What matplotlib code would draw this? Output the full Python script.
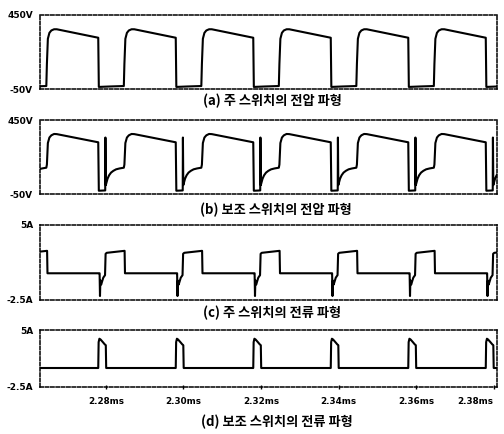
import numpy as np
import matplotlib
matplotlib.use('Agg')
import matplotlib.pyplot as plt

# falling edges of the main switch voltage (ms), 20 us switching period
fall_edges_ms = [2.258, 2.278, 2.298, 2.318, 2.338, 2.358, 2.378]

# one switching period of each trace, time in us after the falling edge
tau_main_v = [0.0, 0.15, 3.0, 6.6, 6.75, 7.0, 7.4, 7.9, 8.6, 9.3, 20.0]
main_v = [297, -34, -31, -28, 120, 290, 330, 346, 354, 354, 297]

tau_aux_v = [0.0, 0.15, 1.8, 1.85, 1.95, 2.15, 2.4, 2.8, 3.3, 3.9, 4.6, 5.5,
             6.6, 6.75, 7.0, 7.4, 7.9, 8.6, 9.3, 20.0]
aux_v = [300, -26, -24, 332, 12, 32, 55, 78, 96, 108, 118, 124,
         129, 150, 295, 332, 347, 356, 355, 300]

tau_main_i = [0.0, 0.35, 0.45, 0.55, 0.75, 1.3, 1.75, 1.9, 2.2, 6.8, 6.9, 20.0]
main_i = [0.14, 0.14, -2.15, -0.6, -1.0, -0.3, -0.05, 2.1, 2.2, 2.4, 0.14, 0.14]

tau_aux_i = [0.0, 0.1, 0.3, 0.6, 1.2, 1.7, 1.95, 2.05, 20.0]
aux_i = [0.0, 3.4, 3.85, 3.75, 3.4, 3.1, 3.0, 0.0, 0.0]

x_ticks = [2.28, 2.30, 2.32, 2.34, 2.36, 2.38]
x_labels = ['2.28ms', '2.30ms', '2.32ms', '2.34ms', '2.36ms', '2.38ms']
x_range = (2.26297, 2.3809)

captions = ['(a) 주 스위치의 전압 파형', '(b) 보조 스위치의 전압 파형',
            '(c) 주 스위치의 전류 파형', '(d) 보조 스위치의 전류 파형']


def tile(tau, vals):
    t = np.concatenate([f + np.asarray(tau) / 1000.0 for f in fall_edges_ms])
    y = np.tile(vals, len(fall_edges_ms))
    return t, y


W, H = 504, 434
fig = plt.figure(figsize=(W / 100, H / 100), dpi=100)

# boxes in pixels: (top, bottom)
boxes = [(15, 89.3), (120, 194.3), (225, 299.5), (330, 387)]
left_px, right_px = 40, 497
caption_pos = [(272, 101), (276, 210), (272, 313), (277, 422)]

panels = [
    (tau_main_v, main_v, (-50, 450), ['-50V', '450V']),
    (tau_aux_v, aux_v, (-50, 450), ['-50V', '450V']),
    (tau_main_i, main_i, (-2.5, 5), ['-2.5A', '5A']),
    (tau_aux_i, aux_i, (-2.5, 5), ['-2.5A', '5A']),
]

lbl_font = dict(family='DejaVu Sans', fontweight='bold')

for k, ((tau, vals, ylim, ylab), (top, bot)) in enumerate(zip(panels, boxes)):
    ax = fig.add_axes([left_px / W, 1 - bot / H, (right_px - left_px) / W, (bot - top) / H])
    t, y = tile(tau, vals)
    ax.plot(t, y, color='black', lw=1.5)
    ax.set_xlim(*x_range)
    ax.set_ylim(*ylim)
    ax.set_yticks(list(ylim))
    ax.set_yticklabels(ylab, fontsize=6.5, **lbl_font)
    ax.tick_params(axis='y', length=0, pad=5)
    for sp in ax.spines.values():
        sp.set_linestyle((0, (2.2, 1.3)))
        sp.set_linewidth(1.1)
    if k == 3:
        ax.set_xticks(x_ticks)
        labs = ax.set_xticklabels(x_labels, fontsize=6.3, **lbl_font)
        labs[-1].set_ha('right')
        ax.tick_params(axis='x', length=3, direction='inout', pad=6, width=1)
    else:
        ax.set_xticks([])
    cx, cy = caption_pos[k]
    fig.text(cx / W, 1 - cy / H, captions[k], ha='center', va='center',
             family=['Noto Sans CJK KR', 'DejaVu Sans'], fontweight='bold', fontsize=9.5)

fig.savefig('out.png', dpi=100)
